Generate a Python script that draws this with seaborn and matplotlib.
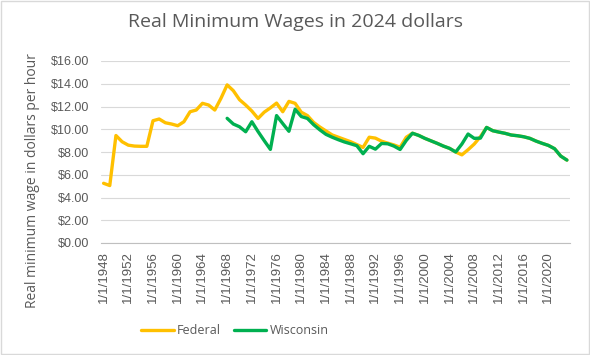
import numpy as np
import pandas as pd
import matplotlib
matplotlib.use("Agg")
import matplotlib.pyplot as plt
from matplotlib.lines import Line2D
from matplotlib.patches import Rectangle
from matplotlib.ticker import FixedLocator, FuncFormatter
import seaborn as sns

# ---------------- data ----------------
years = list(range(1948, 2024))

federal = [
    5.25, 5.05, 9.45, 8.90, 8.60, 8.52, 8.50, 8.50, 10.75, 10.90,   # 1948-1957
    10.57, 10.46, 10.31, 10.66, 11.54, 11.69, 12.28, 12.13, 11.69, 12.72,  # 1958-1967
    13.90, 13.39, 12.60, 12.13, 11.60, 10.95, 11.50, 11.88, 12.30, 11.54,  # 1968-1977
    12.45, 12.28, 11.50, 11.20, 10.60, 10.20, 9.85, 9.50, 9.30, 9.10,     # 1978-1987
    8.90, 8.65, 8.40, 9.30, 9.22, 8.95, 8.78, 8.62, 8.42, 9.30,           # 1988-1997
    9.65, 9.46, 9.20, 8.98, 8.76, 8.52, 8.32, 8.00, 7.75, 8.20,           # 1998-2007
    8.70, 9.35, 10.16, 9.87, 9.75, 9.64, 9.49, 9.43, 9.34, 9.20,          # 2008-2017
    8.96, 8.76, 8.58, 8.29, 7.64, 7.29,                                   # 2018-2023
]

wisconsin = [np.nan] * 20 + [
    10.96, 10.46, 10.22, 9.78, 10.66, 9.80, 9.00, 8.23, 11.20, 10.50,     # 1968-1977
    9.82, 11.76, 11.12, 10.95, 10.40, 9.95, 9.55, 9.30, 9.08, 8.88,       # 1978-1987
    8.72, 8.55, 7.85, 8.50, 8.25, 8.75, 8.72, 8.52, 8.22, 9.02,           # 1988-1997
    9.65, 9.46, 9.20, 8.98, 8.76, 8.52, 8.32, 8.00, 8.70, 9.58,           # 1998-2007
    9.20, 9.22, 10.16, 9.87, 9.75, 9.64, 9.49, 9.43, 9.34, 9.20,          # 2008-2017
    8.96, 8.76, 8.58, 8.29, 7.64, 7.29,                                   # 2018-2023
]

series_names = ["Federal", "Wisconsin"]
series_colors = ["#FFC000", "#00B050"]
y_ticks = [0, 2, 4, 6, 8, 10, 12, 14, 16]
label_every = 4

title = "Real Minimum Wages in 2024 dollars"
y_label = "Real minimum wage in dollars per hour"

# ---------------- frame ----------------
n = len(years)
pos = list(range(n))
df = pd.DataFrame({
    "pos": pos * 2,
    "value": federal + wisconsin,
    "series": ["Federal"] * n + ["Wisconsin"] * n,
})

sns.set_style("white")
plt.rcParams["font.family"] = ["Liberation Sans", "DejaVu Sans"]

fig = plt.figure(figsize=(5.9, 3.55), dpi=100)
ax = fig.add_axes([100.5 / 590, 1 - 243 / 355, 469.5 / 590, 182 / 355])

sns.lineplot(data=df, x="pos", y="value", hue="series",
             palette=dict(zip(series_names, series_colors)),
             linewidth=2.4, ax=ax, legend=False, sort=False)

ax.set_xlim(-0.5, n - 0.5)
ax.set_ylim(0, 16)
ax.set_xlabel("")
ax.set_ylabel("")

grey = "#595959"
ax.yaxis.set_major_locator(FixedLocator(y_ticks))
ax.yaxis.set_major_formatter(FuncFormatter(lambda v, p: f"${v:,.2f}"))
ax.tick_params(axis="y", length=0, labelsize=9, labelcolor=grey, pad=8)
ax.grid(axis="y", color="#D9D9D9", linewidth=0.8)
ax.set_axisbelow(True)

# category ticks: tick marks between categories, labels on the category
major = [p - 0.5 for p in range(0, n + 1, label_every)]
minor = list(range(0, n, label_every))
ax.xaxis.set_major_locator(FixedLocator(major))
ax.xaxis.set_major_formatter(FuncFormatter(lambda v, p: ""))
ax.xaxis.set_minor_locator(FixedLocator(minor))
ax.xaxis.set_minor_formatter(FuncFormatter(lambda v, p: f"1/1/{years[int(round(v))]}"))
ax.tick_params(axis="x", which="major", length=5, width=0.8, color="#BFBFBF", direction="out")
ax.tick_params(axis="x", which="minor", length=0, labelsize=9.5, labelcolor=grey,
               labelrotation=90, pad=6)

for s in ["left", "right", "top"]:
    ax.spines[s].set_visible(False)
ax.spines["bottom"].set_color("#BFBFBF")
ax.spines["bottom"].set_linewidth(0.8)

fig.text(0.5, 1 - 22 / 355, title, ha="center", va="center",
         fontsize=14, color=grey, family=["Open Sans", "DejaVu Sans"])
fig.text(33 / 590, 1 - 181 / 355, y_label, ha="center", va="center",
         rotation=90, fontsize=10, color=grey, family=["Open Sans", "DejaVu Sans"])

handles = [Line2D([0], [0], color=c, lw=2.4) for c in series_colors]
fig.legend(handles, series_names, loc="center", bbox_to_anchor=(235 / 590, 1 - 331 / 355),
           ncol=2, frameon=False, prop={"family": ["Open Sans", "DejaVu Sans"], "size": 9},
           labelcolor=grey, handlelength=2.6, columnspacing=1.0, handletextpad=0.3)

fig.add_artist(Rectangle((0.001, 0.002), 0.997, 0.995, transform=fig.transFigure,
                         fill=False, edgecolor="#D9D9D9", linewidth=1))

fig.savefig("out.png", dpi=100)
